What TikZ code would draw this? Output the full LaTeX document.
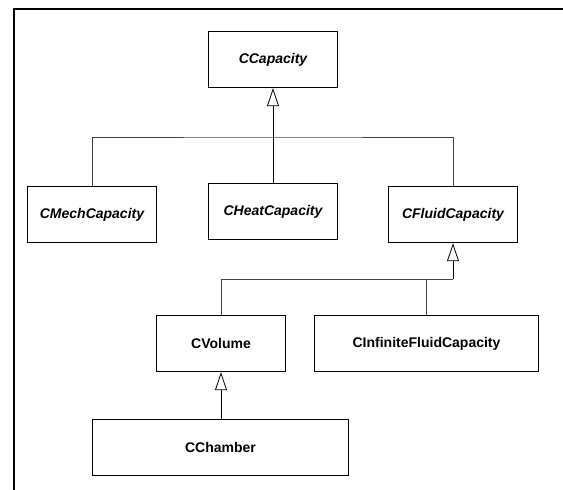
\documentclass[tikz,border=0pt]{standalone}
\usepackage{fontspec}
\setmainfont{Liberation Sans}
\usetikzlibrary{arrows.meta,positioning}
\tikzset{
classbox/.style={draw=black, line width=1.4pt, fill=white, align=center, inner sep=2pt,
  minimum width=129pt, minimum height=56pt, font=\fontsize{14}{16}\selectfont\bfseries},
abstractbox/.style={classbox, font=\fontsize{14}{16}\selectfont\bfseries\itshape},
treeline/.style={draw=black!75, line width=0.8pt},
inherits/.style={draw=black, line width=0.8pt, -{Triangle[open, length=18pt, width=12pt, line width=0.8pt]}}
}

\begin{document}
\begin{tikzpicture}[x=1pt, y=-1pt]
  \useasboundingbox (0,0) rectangle (563,490);
  % partial frame
  \draw[line width=2pt] (563,9) -- (14,9) -- (14,490);

  \node[abstractbox] (cap) at (273,59.5) {CCapacity};
  \node[abstractbox] (mech) at (92,214.5) {CMechCapacity};
  \node[abstractbox] (heat) at (273,211.5) {CHeatCapacity};
  \node[abstractbox] (fluid) at (453,214.5) {CFluidCapacity};
  \node[classbox] (volume) at (221,343.5) {CVolume};
  \node[classbox, minimum width=224pt] (infinite) at (426.5,343.5) {CInfiniteFluidCapacity};
  \node[classbox, minimum width=256pt] (chamber) at (220.5,447.5) {CChamber};

  \coordinate (busA) at (273,137);
  \coordinate (busB) at (453,279);

  % first level
  \draw[treeline] (mech.north) |- (busA) -| (fluid.north);
  \draw[inherits] (heat.north) -- (cap.south);
  % fluid branch
  \draw[treeline] (volume.north) |- (busB);
  \draw[treeline] (infinite.north) -- (infinite.north |- busB);
  \draw[inherits] (busB) -- (fluid.south);
  % volume branch
  \draw[inherits] (chamber.north -| volume.south) -- (volume.south);
\end{tikzpicture}
\end{document}
